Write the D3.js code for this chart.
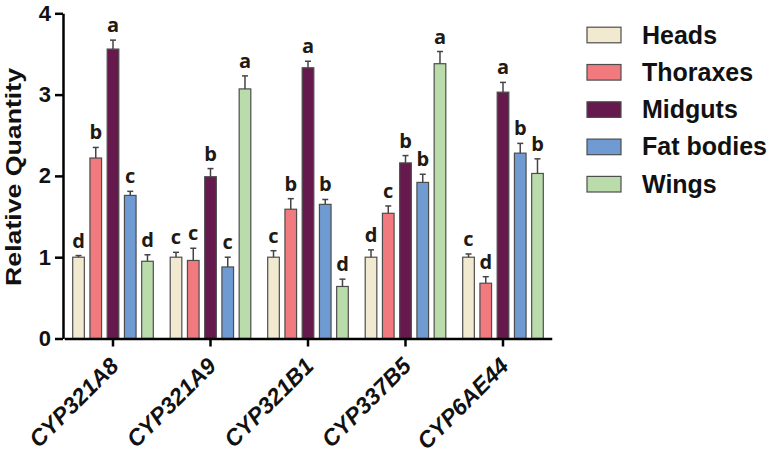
<!DOCTYPE html>
<html>
<head>
<meta charset="utf-8">
<script src="https://cdn.jsdelivr.net/npm/d3@7"></script>
<style>
  body { margin: 0; background: #fff; }
  text { font-family: "Liberation Sans", Arial, sans-serif; }
</style>
</head>
<body>
<script>
var width = 776;
var height = 455;

var genes = ["CYP321A8", "CYP321A9", "CYP321B1", "CYP337B5", "CYP6AE44"];
var tissues = ["Heads", "Thoraxes", "Midguts", "Fat bodies", "Wings"];
var colors = ["#f1e9d0", "#f07a7e", "#66194c", "#6f9bd2", "#badcaa"];

// mean per gene, in tissue order
var means = [
  [1.00, 2.22, 3.56, 1.76, 0.95],
  [1.00, 0.96, 1.99, 0.88, 3.07],
  [1.00, 1.59, 3.33, 1.65, 0.64],
  [1.00, 1.54, 2.16, 1.92, 3.38],
  [1.00, 0.68, 3.03, 2.28, 2.03]
];
// standard error
var errors = [
  [0.02, 0.13, 0.11, 0.05, 0.08],
  [0.06, 0.15, 0.10, 0.12, 0.16],
  [0.08, 0.13, 0.08, 0.06, 0.09],
  [0.09, 0.09, 0.09, 0.10, 0.15],
  [0.04, 0.08, 0.12, 0.12, 0.18]
];
var letters = [
  ["d", "b", "a", "c", "d"],
  ["c", "c", "b", "c", "a"],
  ["c", "b", "a", "b", "d"],
  ["d", "c", "b", "b", "a"],
  ["c", "d", "a", "b", "b"]
];
var yTicks = [0, 1, 2, 3, 4];

var svg = d3.select("body")
  .append("svg")
  .attr("width", width)
  .attr("height", height);

var y = d3.scaleLinear().domain([0, 4]).range([338.5, 13.3]);

var x0 = d3.scaleBand().domain(genes).range([64.25, 551.75]);
var x1 = d3.scaleBand().domain(tissues)
  .range([0, x0.bandwidth()])
  .paddingInner(0.325)
  .paddingOuter(0.49);

// bars
genes.forEach(function(g, gi) {
  var grp = svg.append("g").attr("transform", "translate(" + x0(g) + ",0)");
  tissues.forEach(function(t, ti) {
    var v = means[gi][ti];
    var e = errors[gi][ti];
    var cx = x1(t) + x1.bandwidth() / 2;
    grp.append("rect")
      .attr("x", x1(t))
      .attr("y", y(v))
      .attr("width", x1.bandwidth())
      .attr("height", y(0) - y(v))
      .attr("fill", colors[ti])
      .attr("stroke", "#4d4d4d")
      .attr("stroke-width", 1.2);
    // error bar
    grp.append("line")
      .attr("x1", cx).attr("x2", cx)
      .attr("y1", y(v)).attr("y2", y(v + e))
      .attr("stroke", "#444").attr("stroke-width", 1.5);
    grp.append("line")
      .attr("x1", cx - 3).attr("x2", cx + 3)
      .attr("y1", y(v + e)).attr("y2", y(v + e))
      .attr("stroke", "#444").attr("stroke-width", 1.5);
    grp.append("text")
      .attr("x", cx)
      .attr("y", y(v + e) - 8)
      .attr("text-anchor", "middle")
      .style("font-family", "'Open Sans', sans-serif")
      .style("font-weight", "700")
      .style("font-size", "20px")
      .attr("fill", "#221a12")
      .text(letters[gi][ti]);
  });
});

// y axis
var yAxis = svg.append("g")
  .attr("transform", "translate(63,0)")
  .call(d3.axisLeft(y).tickValues(yTicks).tickFormat(d3.format("d"))
    .tickSize(8).tickSizeOuter(0).tickPadding(4));
yAxis.select(".domain").attr("stroke-width", 2.5);
yAxis.selectAll(".tick line").attr("stroke-width", 2.5);
yAxis.selectAll(".tick text")
  .style("font-size", "22px")
  .style("font-weight", "700")
  .attr("fill", "#111");

// x axis
var xAxis = svg.append("g")
  .attr("transform", "translate(0," + y(0) + ")")
  .call(d3.axisBottom(x0).tickSize(8).tickSizeOuter(0));
xAxis.select(".domain").attr("stroke-width", 2.5);
xAxis.selectAll(".tick line").attr("stroke-width", 2.5);
xAxis.selectAll(".tick text")
  .attr("text-anchor", "end")
  .attr("dy", null)
  .attr("y", null)
  .attr("transform", "translate(7,29) rotate(-45)")
  .style("font-size", "23px")
  .style("font-weight", "700")
  .style("font-style", "italic")
  .attr("fill", "#111");

// y title
svg.append("text")
  .attr("transform", "translate(21,177) rotate(-90)")
  .attr("text-anchor", "middle")
  .attr("textLength", 218)
  .attr("lengthAdjust", "spacingAndGlyphs")
  .style("font-size", "22px")
  .style("font-weight", "700")
  .attr("fill", "#111")
  .text("Relative Quantity");

// legend
var legend = svg.append("g").attr("transform", "translate(587,35)");
tissues.forEach(function(t, i) {
  var row = legend.append("g").attr("transform", "translate(0," + (i * 37.3) + ")");
  row.append("rect")
    .attr("x", 0).attr("y", -7.8)
    .attr("width", 34).attr("height", 15.6)
    .attr("fill", colors[i])
    .attr("stroke", "#4d4d4d")
    .attr("stroke-width", 1.2);
  row.append("text")
    .attr("x", 55).attr("y", 8.5)
    .style("font-size", "25px")
    .style("font-weight", "700")
    .attr("fill", "#111")
    .text(t);
});
</script>
</body>
</html>
